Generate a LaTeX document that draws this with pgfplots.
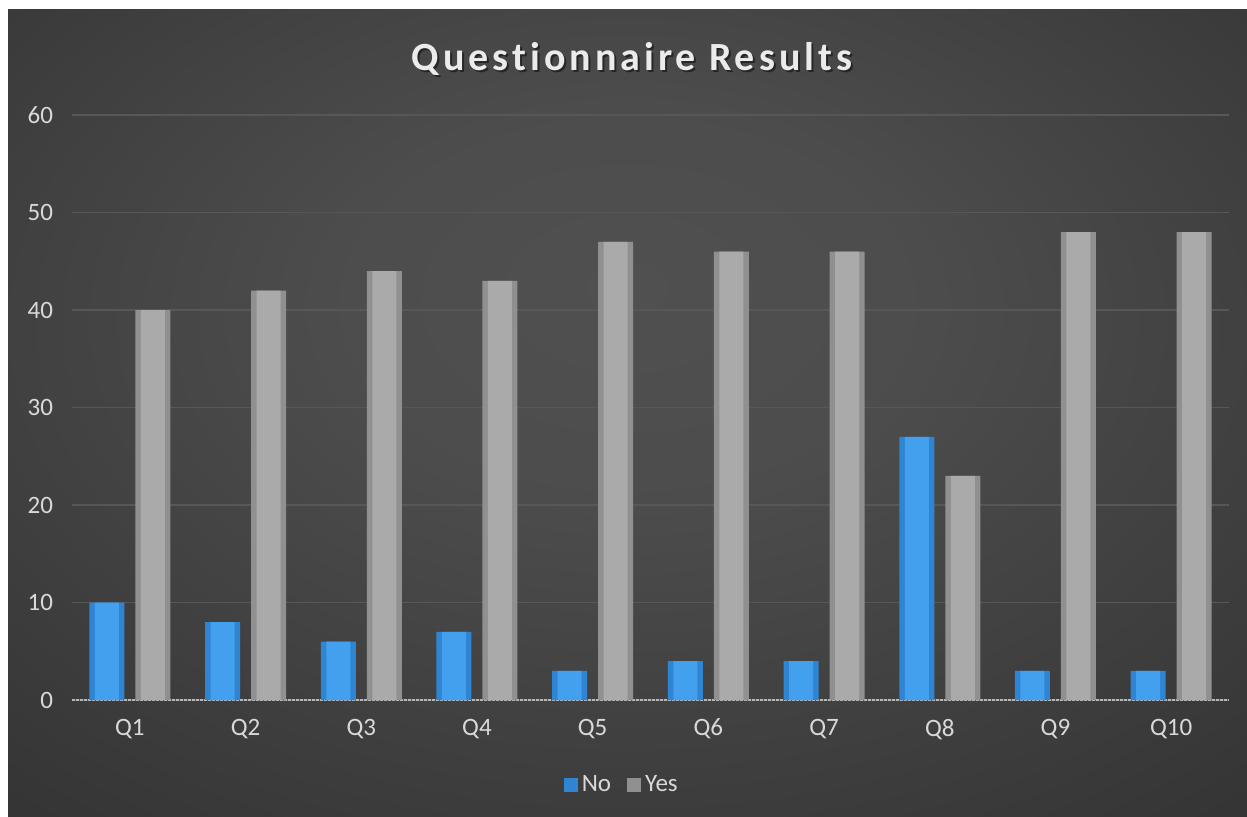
\documentclass[border=0pt]{standalone}
\usepackage{pgfplots}
\usepackage{pgfplotstable}
\pgfplotsset{compat=1.18}
\usepackage{fontspec}
\setmainfont{Carlito}[Ligatures=NoCommon]
\definecolor{bgin}{HTML}{505050}
\definecolor{bgout}{HTML}{232323}
\definecolor{txt}{HTML}{D9D9D9}
\definecolor{gridc}{HTML}{575757}
\definecolor{blueM}{HTML}{42A0EE}
\definecolor{blueE}{HTML}{2F85D2}
\definecolor{grayM}{HTML}{AAAAAA}
\definecolor{grayE}{HTML}{909090}
\pgfdeclareradialshading{bgshade}{\pgfpoint{0bp}{8bp}}{color(0bp)=(bgin); color(12bp)=(bgin!92!bgout); color(40bp)=(bgin!35!bgout); color(60bp)=(bgout); color(75bp)=(bgout)}
\pgfplotstableread{
x no yes
0 10 40
1 8 42
2 6 44
3 7 43
4 3 47
5 4 46
6 4 46
7 27 23
8 3 48
9 3 48
}\data
\begin{document}
\begin{tikzpicture}
\fill[white] (0,0) rectangle (623.5pt,408pt);
\shade[shading=bgshade] (4pt,0) rectangle (623.5pt,403pt);
\node[text=black!85, font=\fontsize{20}{22}\selectfont\bfseries, anchor=base] at (317pt,371.7pt) {\addfontfeatures{LetterSpace=10,Ligatures=NoCommon}Questionnaire Results};
\node[text=white!92!black, font=\fontsize{20}{22}\selectfont\bfseries, anchor=base] at (316pt,372.7pt) {\addfontfeatures{LetterSpace=10,Ligatures=NoCommon}Questionnaire Results};
\begin{axis}[
  at={(36pt,58pt)}, anchor=south west,
  scale only axis, width=578.5pt, height=292.5pt,
  xmin=-0.5, xmax=9.5, ymin=0, ymax=60,
  ytick={0,10,...,60},
  xtick={0,...,9},
  xticklabels={Q1,Q2,Q3,Q4,Q5,Q6,Q7,Q8,Q9,Q10},
  /pgf/number format/assume math mode=true,
  axis line style={draw=none},
  major tick length=0pt,
  ymajorgrids, grid style={gridc, line width=0.6pt},
  extra y ticks={0}, extra y tick labels={},
  extra y tick style={grid style={draw=white!72!black, line width=1.3pt, dash pattern=on 1.5pt off 0.5pt}},
  ticklabel style={text=txt, font=\fontsize{12.5}{14}\selectfont},
  yticklabel style={xshift=-6pt},
  xticklabel style={yshift=-6pt},
  ybar,
  legend style={at={(0.476,-0.145)}, anchor=center, draw=none, fill=none,
    text=txt, font=\fontsize{12.5}{14}\selectfont, legend columns=2,
    /tikz/every even column/.append style={column sep=6pt}},
  legend image code/.code={\fill[#1] (0pt,-3.5pt) rectangle (7pt,3.5pt);},
]
\addplot[draw=none, fill=blueE, bar width=17.5pt, bar shift=-11.5pt] table[x=x,y=no] {\data};
\addplot[draw=none, fill=grayE, bar width=17.5pt, bar shift=11.5pt] table[x=x,y=yes] {\data};
\addplot[forget plot, draw=none, fill=blueM, bar width=12pt, bar shift=-11.5pt] table[x=x,y=no] {\data};
\addplot[forget plot, draw=none, fill=grayM, bar width=12pt, bar shift=11.5pt] table[x=x,y=yes] {\data};
\legend{No,Yes}
\end{axis}
\pgfresetboundingbox
\useasboundingbox (0,0) rectangle (623.5pt,408pt);
\end{tikzpicture}
\end{document}
